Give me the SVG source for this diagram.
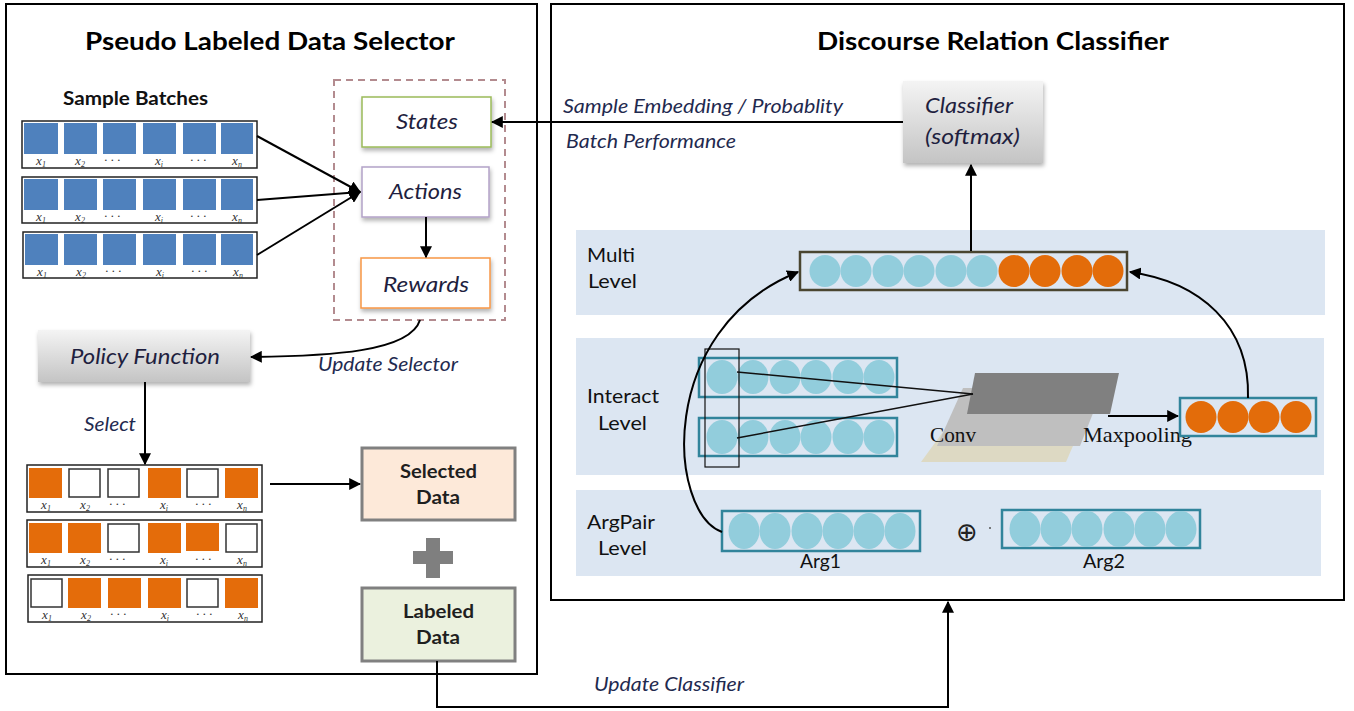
<svg xmlns="http://www.w3.org/2000/svg" width="1354" height="711" viewBox="0 0 1354 711">
<defs>
<style>
.panel{fill:#fff;stroke:#000;stroke-width:2}
.title{font-family:Lato,"Open Sans",sans-serif;font-weight:bold;font-size:25px;fill:#000;text-anchor:middle}
.lbl{font-family:Lato,"Open Sans",sans-serif;font-weight:bold;font-size:18px;fill:#111}
.node{font-family:Lato,"Open Sans",sans-serif;font-style:italic;font-size:21px;fill:#1f1f3f;text-anchor:middle}
.edge{font-family:Lato,"Open Sans",sans-serif;font-style:italic;font-size:19px;fill:#1f2a4f}
.data{font-family:Lato,"Open Sans",sans-serif;font-weight:bold;font-size:19px;fill:#1f1f1f;text-anchor:middle}
.lev{font-family:Lato,"Open Sans",sans-serif;font-size:19px;fill:#111}
.serif{font-family:"Liberation Serif",serif;font-size:22px;fill:#111}
.math{font-family:"Liberation Serif",serif;font-style:italic;font-size:13px;fill:#333;text-anchor:middle}
.row{fill:#fff;stroke:#222;stroke-width:1.5}
.b{fill:#4f81bd}
.o{fill:#e46c0a}
.w{fill:#fff;stroke:#333;stroke-width:1.5}
.con{fill:none;stroke:#000;stroke-width:2}
.band{fill:#dce6f2}
.tvec{fill:#dce6f2;stroke:#31849b;stroke-width:2.5}
.cb{fill:#92cddc}
.co{fill:#e36c0a}
</style>
<marker id="ah" viewBox="0 0 10 10" refX="9" refY="5" markerWidth="6" markerHeight="6" orient="auto" markerUnits="strokeWidth">
<path d="M0,0 L10,5 L0,10 z" fill="#000"/>
</marker>
<linearGradient id="gray" x1="0" y1="0" x2="0" y2="1">
<stop offset="0" stop-color="#f4f4f4"/>
<stop offset="1" stop-color="#c4c4c4"/>
</linearGradient>
<filter id="sh" x="-10%" y="-10%" width="130%" height="140%">
<feDropShadow dx="1" dy="3" stdDeviation="2" flood-color="#000" flood-opacity="0.3"/>
</filter>
<g id="labels">
<text class="math" x="19" y="44">x<tspan font-size="8" dy="2">1</tspan></text>
<text class="math" x="58" y="44">x<tspan font-size="8" dy="2">2</tspan></text>
<text class="math" x="90" y="43">· · ·</text>
<text class="math" x="137" y="44">x<tspan font-size="8" dy="2">i</tspan></text>
<text class="math" x="176" y="43">· · ·</text>
<text class="math" x="215" y="44">x<tspan font-size="8" dy="2">n</tspan></text>
</g>
</defs>
<rect width="1354" height="711" fill="#fff"/>

<!-- panels -->
<g id="left-panel">
<rect class="panel" x="6" y="4" width="531" height="670"/>
<text class="title" x="270" y="50" textLength="370" lengthAdjust="spacingAndGlyphs">Pseudo Labeled Data Selector</text>
</g>
<g id="right-panel">
<rect class="panel" x="551" y="4" width="793" height="596"/>
<text class="title" x="993" y="50" textLength="352" lengthAdjust="spacingAndGlyphs">Discourse Relation Classifier</text>
</g>

<!-- sample batches -->
<g id="sample-batches">
<text class="lbl" x="135.5" y="105" text-anchor="middle" textLength="145" lengthAdjust="spacingAndGlyphs">Sample Batches</text>
<g transform="translate(22,121)">
<rect class="row" x="0" y="0" width="235" height="47"/>
<rect class="b" x="2" y="2" width="34" height="31"/><rect class="b" x="42" y="2" width="33" height="31"/><rect class="b" x="81" y="2" width="33" height="31"/><rect class="b" x="121" y="2" width="33" height="31"/><rect class="b" x="161" y="2" width="33" height="31"/><rect class="b" x="199" y="2" width="32" height="31"/>
<use href="#labels"/>
</g>
<g transform="translate(22,177)">
<rect class="row" x="0" y="0" width="235" height="46"/>
<rect class="b" x="2" y="2" width="34" height="31"/><rect class="b" x="42" y="2" width="33" height="31"/><rect class="b" x="81" y="2" width="33" height="31"/><rect class="b" x="121" y="2" width="33" height="31"/><rect class="b" x="161" y="2" width="33" height="31"/><rect class="b" x="199" y="2" width="32" height="31"/>
<use href="#labels"/>
</g>
<g transform="translate(23,232)">
<rect class="row" x="0" y="0" width="234" height="46"/>
<rect class="b" x="2" y="2" width="33" height="31"/><rect class="b" x="41" y="2" width="33" height="31"/><rect class="b" x="80" y="2" width="33" height="31"/><rect class="b" x="120" y="2" width="33" height="31"/><rect class="b" x="160" y="2" width="33" height="31"/><rect class="b" x="198" y="2" width="32" height="31"/>
<use href="#labels"/>
</g>
</g>

<!-- RL box -->
<g id="rl-group">
<rect x="334" y="80" width="171" height="240" fill="none" stroke="#b38b8f" stroke-width="2" stroke-dasharray="7,5"/>
</g>
<g id="states">
<rect x="362" y="97" width="129" height="50" fill="#fff" stroke="#9bbb59" stroke-width="1.5" filter="url(#sh)"/>
<text class="node" x="427" y="129" textLength="62" lengthAdjust="spacingAndGlyphs">States</text>
</g>
<g id="actions">
<rect x="362" y="167" width="127" height="50" fill="#fff" stroke="#b3a2c7" stroke-width="1.5" filter="url(#sh)"/>
<text class="node" x="425.5" y="199" textLength="73" lengthAdjust="spacingAndGlyphs">Actions</text>
</g>
<g id="rewards">
<rect x="361" y="258" width="129" height="50" fill="#fff" stroke="#f79646" stroke-width="1.5" filter="url(#sh)"/>
<text class="node" x="426" y="292" textLength="86" lengthAdjust="spacingAndGlyphs">Rewards</text>
</g>

<!-- policy -->
<g id="policy-function">
<rect x="38" y="330" width="212" height="52" fill="url(#gray)" filter="url(#sh)"/>
<text class="node" x="145" y="364" textLength="150" lengthAdjust="spacingAndGlyphs">Policy Function</text>
</g>

<!-- selected batches -->
<g id="selected-batches">
<g transform="translate(27,465)">
<rect class="row" x="0" y="0" width="235" height="47"/>
<rect class="o" x="2" y="3" width="33" height="30"/><rect class="w" x="42" y="4" width="31" height="28"/><rect class="w" x="81" y="4" width="31" height="28"/><rect class="o" x="121" y="3" width="33" height="30"/><rect class="w" x="160" y="4" width="31" height="28"/><rect class="o" x="198" y="3" width="33" height="30"/>
<use href="#labels"/>
</g>
<g transform="translate(27,520)">
<rect class="row" x="0" y="0" width="235" height="47"/>
<rect class="o" x="2" y="3" width="33" height="30"/><rect class="o" x="41" y="3" width="33" height="30"/><rect class="w" x="81" y="4" width="31" height="28"/><rect class="o" x="121" y="3" width="33" height="30"/><rect class="o" x="159" y="3" width="33" height="28"/><rect class="w" x="199" y="4" width="31" height="28"/>
<use href="#labels"/>
</g>
<g transform="translate(28,575)">
<rect class="row" x="0" y="0" width="234" height="47"/>
<rect class="w" x="3" y="4" width="31" height="28"/><rect class="o" x="40" y="3" width="33" height="30"/><rect class="o" x="80" y="3" width="33" height="30"/><rect class="o" x="120" y="3" width="33" height="30"/><rect class="w" x="159" y="4" width="31" height="28"/><rect class="o" x="197" y="3" width="33" height="30"/>
<use href="#labels"/>
</g>
</g>

<!-- data boxes -->
<g id="selected-data">
<rect x="362" y="448" width="153" height="72" fill="#fde9d9" stroke="#808080" stroke-width="3"/>
<text class="data" x="438.5" y="478" textLength="77" lengthAdjust="spacingAndGlyphs">Selected</text>
<text class="data" x="438" y="504" textLength="44" lengthAdjust="spacingAndGlyphs">Data</text>
</g>
<g id="plus">
<rect x="413" y="551" width="40" height="13" fill="#7f7f7f"/>
<rect x="426" y="538" width="14" height="40" fill="#7f7f7f"/>
</g>
<g id="labeled-data">
<rect x="362" y="588" width="153" height="73" fill="#ebf1de" stroke="#808080" stroke-width="3"/>
<text class="data" x="438.5" y="618" textLength="71" lengthAdjust="spacingAndGlyphs">Labeled</text>
<text class="data" x="438" y="644" textLength="44" lengthAdjust="spacingAndGlyphs">Data</text>
</g>

<!-- classifier -->
<g id="classifier">
<rect x="903" y="81" width="140" height="82" fill="url(#gray)" filter="url(#sh)"/>
<text class="node" x="969" y="113" textLength="88" lengthAdjust="spacingAndGlyphs">Classifier</text>
<text class="node" x="972.5" y="144" textLength="95" lengthAdjust="spacingAndGlyphs">(softmax)</text>
</g>

<!-- level bands -->
<g id="multi-level">
<rect class="band" x="576" y="230" width="749" height="85"/>
<text class="lev" x="587" y="262" textLength="48" lengthAdjust="spacingAndGlyphs">Multi</text>
<text class="lev" x="588" y="288" textLength="49" lengthAdjust="spacingAndGlyphs">Level</text>
<rect x="800" y="252" width="327" height="38" fill="#dce6f2" stroke="#4a4530" stroke-width="2.5"/>
<ellipse class="cb" cx="825" cy="271" rx="15.5" ry="16"/><ellipse class="cb" cx="856" cy="271" rx="15.5" ry="16"/><ellipse class="cb" cx="888" cy="271" rx="15.5" ry="16"/><ellipse class="cb" cx="919" cy="271" rx="15.5" ry="16"/><ellipse class="cb" cx="951" cy="271" rx="15.5" ry="16"/><ellipse class="cb" cx="982" cy="271" rx="15.5" ry="16"/>
<ellipse class="co" cx="1014" cy="271" rx="15.5" ry="16"/><ellipse class="co" cx="1045" cy="271" rx="15.5" ry="16"/><ellipse class="co" cx="1077" cy="271" rx="15.5" ry="16"/><ellipse class="co" cx="1108" cy="271" rx="15.5" ry="16"/>
</g>

<g id="interact-level">
<rect class="band" x="576" y="338" width="748" height="137"/>
<text class="lev" x="587" y="403" textLength="72" lengthAdjust="spacingAndGlyphs">Interact</text>
<text class="lev" x="598" y="430" textLength="49" lengthAdjust="spacingAndGlyphs">Level</text>
<rect class="tvec" x="699" y="358" width="198" height="39"/>
<ellipse class="cb" cx="722" cy="377" rx="15.5" ry="17"/><ellipse class="cb" cx="753" cy="377" rx="15.5" ry="17"/><ellipse class="cb" cx="785" cy="377" rx="15.5" ry="17"/><ellipse class="cb" cx="816" cy="377" rx="15.5" ry="17"/><ellipse class="cb" cx="848" cy="377" rx="15.5" ry="17"/><ellipse class="cb" cx="879" cy="377" rx="15.5" ry="17"/>
<rect class="tvec" x="699" y="418" width="198" height="38"/>
<ellipse class="cb" cx="722" cy="437" rx="15.5" ry="17"/><ellipse class="cb" cx="753" cy="437" rx="15.5" ry="17"/><ellipse class="cb" cx="785" cy="437" rx="15.5" ry="17"/><ellipse class="cb" cx="816" cy="437" rx="15.5" ry="17"/><ellipse class="cb" cx="848" cy="437" rx="15.5" ry="17"/><ellipse class="cb" cx="879" cy="437" rx="15.5" ry="17"/>
<rect x="705" y="349" width="34" height="118" fill="none" stroke="#111" stroke-width="1.2"/>
<polygon points="948,425 1082,425 1066,462 921,462" fill="#ddd9c3"/>
<polygon points="963,388 1103,388 1080,446 937,446" fill="#bfbfbf"/>
<polygon points="975,373 1119,373 1110,414 967,414" fill="#808080"/>
<line x1="737" y1="372" x2="973" y2="394" stroke="#111" stroke-width="1.5"/>
<line x1="737" y1="438" x2="973" y2="394" stroke="#111" stroke-width="1.5"/>
<text class="serif" x="930" y="442" textLength="46" lengthAdjust="spacingAndGlyphs">Conv</text>
<text class="serif" x="1083" y="442" textLength="109" lengthAdjust="spacingAndGlyphs">Maxpooling</text>
<rect class="tvec" x="1180" y="398" width="136" height="38"/>
<ellipse class="co" cx="1201" cy="417" rx="15.5" ry="16"/><ellipse class="co" cx="1233" cy="417" rx="15.5" ry="16"/><ellipse class="co" cx="1264" cy="417" rx="15.5" ry="16"/><ellipse class="co" cx="1296" cy="417" rx="15.5" ry="16"/>
</g>

<g id="argpair-level">
<rect class="band" x="576" y="490" width="745" height="86"/>
<text class="lev" x="587" y="529" textLength="68" lengthAdjust="spacingAndGlyphs">ArgPair</text>
<text class="lev" x="598" y="555" textLength="49" lengthAdjust="spacingAndGlyphs">Level</text>
<rect class="tvec" x="722" y="511" width="198" height="40"/>
<ellipse class="cb" cx="744" cy="531" rx="15.5" ry="18"/><ellipse class="cb" cx="775" cy="531" rx="15.5" ry="18"/><ellipse class="cb" cx="807" cy="531" rx="15.5" ry="18"/><ellipse class="cb" cx="838" cy="531" rx="15.5" ry="18"/><ellipse class="cb" cx="869" cy="531" rx="15.5" ry="18"/><ellipse class="cb" cx="900" cy="531" rx="15.5" ry="18"/>
<text class="lev" x="820.5" y="568" text-anchor="middle" textLength="41" lengthAdjust="spacingAndGlyphs">Arg1</text>
<text x="967" y="541" text-anchor="middle" font-family="DejaVu Sans" font-size="26" fill="#222">⊕</text>
<circle cx="990" cy="528" r="1" fill="#555"/>
<rect class="tvec" x="1002" y="510" width="198" height="38"/>
<ellipse class="cb" cx="1025" cy="529" rx="15.5" ry="18"/><ellipse class="cb" cx="1056" cy="529" rx="15.5" ry="18"/><ellipse class="cb" cx="1087" cy="529" rx="15.5" ry="18"/><ellipse class="cb" cx="1119" cy="529" rx="15.5" ry="18"/><ellipse class="cb" cx="1150" cy="529" rx="15.5" ry="18"/><ellipse class="cb" cx="1181" cy="529" rx="15.5" ry="18"/>
<text class="lev" x="1104" y="568" text-anchor="middle" textLength="42" lengthAdjust="spacingAndGlyphs">Arg2</text>
</g>

<!-- connectors -->
<g id="connectors">
<line class="con" x1="257" y1="136" x2="360" y2="192" marker-end="url(#ah)"/>
<line class="con" x1="257" y1="200" x2="360" y2="192" marker-end="url(#ah)"/>
<line class="con" x1="257" y1="255" x2="360" y2="192" marker-end="url(#ah)"/>
<line class="con" x1="426" y1="217" x2="426" y2="257" marker-end="url(#ah)"/>
<line class="con" x1="903" y1="122" x2="492" y2="122" marker-end="url(#ah)"/>
<path class="con" d="M420,320 C410,352 330,356 251,357" marker-end="url(#ah)"/>
<line class="con" x1="145" y1="382" x2="145" y2="464" marker-end="url(#ah)"/>
<line class="con" x1="270" y1="484" x2="360" y2="484" marker-end="url(#ah)"/>
<path class="con" d="M437,661 V707 H948 V602" marker-end="url(#ah)"/>
<line class="con" x1="971" y1="251" x2="971" y2="165" marker-end="url(#ah)"/>
<path class="con" d="M722,532 C668,512 655,330 798,272" marker-end="url(#ah)"/>
<path class="con" d="M1248,398 C1250,325 1200,282 1130,272" marker-end="url(#ah)"/>
<line class="con" x1="1108" y1="416" x2="1178" y2="416" stroke-width="2.5" marker-end="url(#ah)"/>
</g>

<g id="edge-labels">
<text class="edge" x="563" y="113" textLength="280" lengthAdjust="spacingAndGlyphs">Sample Embedding / Probablity</text>
<text class="edge" x="566" y="148" textLength="170" lengthAdjust="spacingAndGlyphs">Batch Performance</text>
<text class="edge" x="318" y="371" textLength="140" lengthAdjust="spacingAndGlyphs">Update Selector</text>
<text class="edge" x="84" y="431" textLength="52" lengthAdjust="spacingAndGlyphs">Select</text>
<text class="edge" x="594" y="691" textLength="150" lengthAdjust="spacingAndGlyphs">Update Classifier</text>
</g>
</svg>
